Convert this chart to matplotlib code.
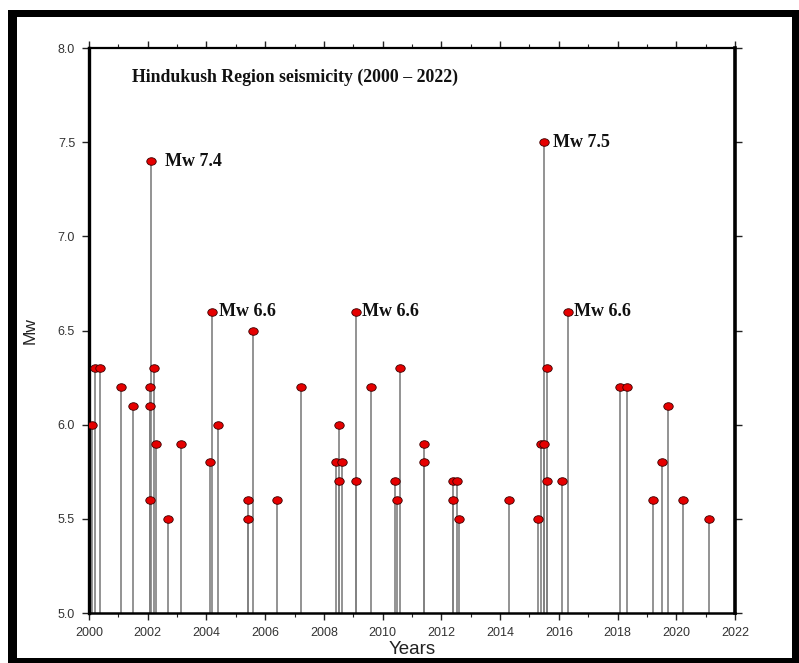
import numpy as np
import matplotlib
matplotlib.use("Agg")
import matplotlib.pyplot as plt
from matplotlib.path import Path
from matplotlib.patches import Rectangle
from matplotlib.ticker import MultipleLocator

# event dates (decimal years) and magnitudes
years = [2000.10, 2000.20, 2000.36, 2001.09, 2001.50, 2002.08, 2002.08, 2002.08,
         2002.10, 2002.20, 2002.29, 2002.70, 2003.12, 2004.13, 2004.20, 2004.40,
         2005.40, 2005.40, 2005.60, 2006.40, 2007.21, 2008.40, 2008.50, 2008.50,
         2008.63, 2009.10, 2009.10, 2009.60, 2010.41, 2010.48, 2010.59, 2011.40,
         2011.40, 2012.41, 2012.41, 2012.52, 2012.61, 2014.32, 2015.30, 2015.40,
         2015.50, 2015.50, 2015.61, 2015.61, 2016.11, 2016.30, 2018.10, 2018.32,
         2019.22, 2019.53, 2019.72, 2020.22, 2021.13]
mw = [6.0, 6.3, 6.3, 6.2, 6.1, 6.2, 6.1, 5.6,
      7.4, 6.3, 5.9, 5.5, 5.9, 5.8, 6.6, 6.0,
      5.6, 5.5, 6.5, 5.6, 6.2, 5.8, 6.0, 5.7,
      5.8, 6.6, 5.7, 6.2, 5.7, 5.6, 6.3, 5.9,
      5.8, 5.7, 5.6, 5.7, 5.5, 5.6, 5.5, 5.9,
      5.9, 7.5, 6.3, 5.7, 5.7, 6.6, 6.2, 6.2,
      5.6, 5.8, 6.1, 5.6, 5.5]

# labelled large events
big_years = [2002.10, 2004.20, 2009.10, 2015.50, 2016.30]
big_mw = [7.4, 6.6, 6.6, 7.5, 6.6]
big_labels = ["Mw 7.4", "Mw 6.6", "Mw 6.6", "Mw 7.5", "Mw 6.6"]
label_dx = [10, 4.5, 4.5, 6.5, 4.5]  # points

W, H = 799, 663
fig = plt.figure(figsize=(W / 100, H / 100), dpi=100)
ax = fig.add_axes([89 / W, 1 - 613 / H, 646 / W, 565 / H])

# squashed circle marker
circ = Path.unit_circle()
ell = Path(circ.vertices * np.array([1.25, 1.0]), circ.codes)

ax.vlines(years, 5.0, mw, color="#808080", lw=1.2, zorder=2)
ax.plot(years, mw, ls="none", marker=ell, ms=6.8, mfc="#e50000",
        mec="#3a0000", mew=0.6, zorder=3)

for x, y, lab, dx in zip(big_years, big_mw, big_labels, label_dx):
    ax.annotate(lab, (x, y), xytext=(dx, 0), textcoords="offset points",
                va="center", ha="left", fontsize=13, fontweight="bold",
                family="Liberation Serif", color="#111111")

ax.text(0.066, 0.948, "Hindukush Region seismicity (2000 \u2013 2022)",
        transform=ax.transAxes, va="center", ha="left", fontsize=12.8,
        fontweight="bold", family="Liberation Serif", color="#111111")

ax.set_xlim(2000, 2022)
ax.set_ylim(5.0, 8.0)
ax.xaxis.set_major_locator(MultipleLocator(2))
ax.xaxis.set_minor_locator(MultipleLocator(1))
ax.set_yticks(np.arange(5.0, 8.01, 0.5))
ax.set_yticklabels([f"{v:.1f}" for v in np.arange(5.0, 8.01, 0.5)])

ax.tick_params(which="both", direction="out", top=True, right=True,
               labeltop=False, labelright=False, color="#222222")
ax.tick_params(which="major", length=5, width=1.0, labelsize=9,
               labelcolor="#333333", pad=5)
ax.tick_params(which="minor", length=3, width=0.8)
for lab in ax.get_xticklabels() + ax.get_yticklabels():
    lab.set_family("Liberation Sans")

ax.spines["left"].set_linewidth(2.4)
ax.spines["right"].set_linewidth(2.6)
ax.spines["top"].set_linewidth(1.6)
ax.spines["bottom"].set_linewidth(1.8)

ax.set_xlabel("Years", fontsize=13.5, family="Liberation Sans", color="#222222")
ax.set_ylabel("Mw", fontsize=12.5, family="Liberation Sans", color="#222222")
ax.xaxis.set_label_coords(0.5, -0.049)
ax.yaxis.set_label_coords(-0.08, 0.5)

# black frame round the figure
def frame_bar(x0, y0, x1, y1):
    fig.add_artist(Rectangle((x0 / W, 1 - y1 / H), (x1 - x0) / W, (y1 - y0) / H,
                             transform=fig.transFigure, color="black", lw=0))

frame_bar(8, 10, 17, 663)
frame_bar(8, 10, 799, 17)
frame_bar(792, 10, 799, 663)
frame_bar(8, 658, 799, 663)

fig.savefig("out.png", dpi=100)
